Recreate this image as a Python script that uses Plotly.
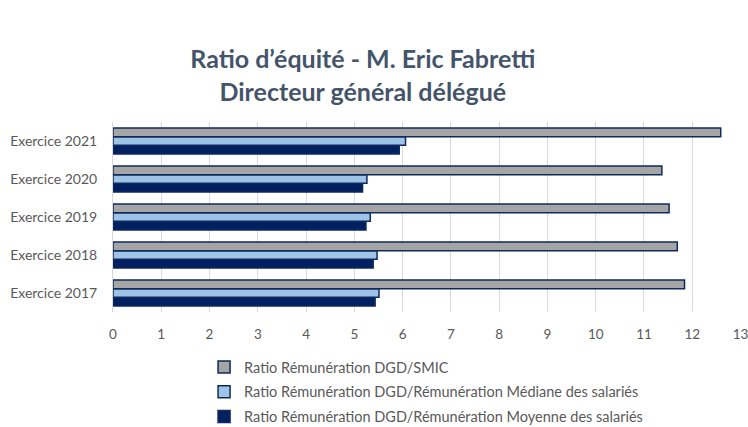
import plotly.graph_objects as go

categories = ["Exercice 2017", "Exercice 2018", "Exercice 2019", "Exercice 2020", "Exercice 2021"]
smic = [11.84, 11.69, 11.52, 11.37, 12.59]
mediane = [5.51, 5.47, 5.33, 5.26, 6.06]
moyenne = [5.43, 5.39, 5.24, 5.17, 5.93]
names = ["Ratio Rémunération DGD/SMIC",
         "Ratio Rémunération DGD/Rémunération Médiane des salariés",
         "Ratio Rémunération DGD/Rémunération Moyenne des salariés"]
title_lines = ["Ratio d’équité - M. Eric Fabretti", "Directeur général délégué"]
x_ticks = list(range(0, 14))

outline = "#0E2A5E"
fig = go.Figure()
fig.add_trace(go.Bar(y=categories, x=moyenne, name=names[2], orientation="h",
                     marker=dict(color="#002060", line=dict(color=outline, width=1.5)),
                     legendgroup="c", legendrank=3))
fig.add_trace(go.Bar(y=categories, x=mediane, name=names[1], orientation="h",
                     marker=dict(color="#9DC3E6", line=dict(color=outline, width=1.5)),
                     legendgroup="b", legendrank=2))
fig.add_trace(go.Bar(y=categories, x=smic, name=names[0], orientation="h",
                     marker=dict(color="#A5A5A5", line=dict(color=outline, width=1.5)),
                     legendgroup="a", legendrank=1))

fig.update_layout(
    width=748, height=427,
    paper_bgcolor="white", plot_bgcolor="white",
    barmode="group", bargap=0.32, bargroupgap=0.0,
    margin=dict(l=113, r=7, t=122, b=115, autoexpand=False),
    font=dict(family="Lato, Open Sans, sans-serif", color="#595959", size=13),
    title=dict(text="<b>" + title_lines[0] + "<br>" + title_lines[1] + "</b>",
               x=0.485, xanchor="center", y=0.84, yanchor="top",
               font=dict(size=25, color="#44546A", family="Lato, Open Sans, sans-serif")),
    xaxis=dict(range=[0, 13.01], tickvals=x_ticks, showgrid=True, gridcolor="#D9D9D9",
               gridwidth=1, zeroline=False, showline=False, ticks="",
               automargin=False, ticklabelstandoff=12, ticklabeloverflow="allow",
               tickfont=dict(size=13.5, color="#595959")),
    yaxis=dict(showgrid=False, showline=True, linecolor="#D9D9D9", ticks="",
               automargin=False, ticklabelstandoff=12,
               tickfont=dict(size=14, color="#595959")),
    legend=dict(orientation="v", x=0.145, xanchor="left", yref="container",
                y=0.178, yanchor="top", itemwidth=30,
                traceorder="grouped", tracegroupgap=3,
                font=dict(size=14.5, color="#595959")),
)

fig.write_html("out.html", config={"displayModeBar": False},
               post_script="document.body.style.margin='0';")
